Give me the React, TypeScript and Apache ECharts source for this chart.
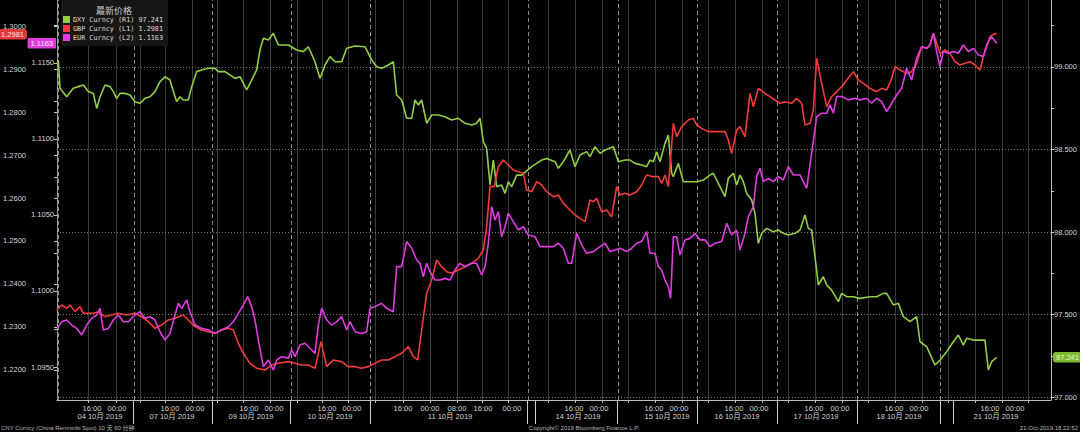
import React, { useEffect, useRef } from "react";
import * as echarts from "echarts";

// x = trading hours since the start of the window (hourly bars)
const DXY: number[][] = [
  [0.4,99.042],[0.9,98.871],[2.9,98.82],[4.9,98.871],[6.4,98.881],[7.9,98.891],[9.4,98.851],[10.9,98.84],[11.9,98.749],[12.9,98.82],
  [14.4,98.891],[15.9,98.881],[16.9,98.851],[17.9,98.81],[18.9,98.84],[20.4,98.84],[21.9,98.83],[23.4,98.79],[24.9,98.78],[26.4,98.81],
  [27.9,98.82],[29.4,98.851],[30.9,98.911],[32.4,98.941],[33.9,98.921],[34.9,98.851],[35.9,98.79],[36.9,98.82],[37.9,98.8],[39.4,98.8],
  [40.4,98.881],[41.9,98.972],[43.4,98.982],[45.4,98.992],[47.4,98.992],[48.4,98.972],[49.4,98.972],[50.4,98.972],[51.9,98.952],[53.4,98.931],
  [54.9,98.941],[56.4,98.881],[56.9,98.861],[58.4,98.921],[59.9,98.982],[60.9,99.103],[61.9,99.174],[63.4,99.164],[64.9,99.204],[66.4,99.133],
  [69.4,99.133],[71.9,99.103],[73.9,99.093],[75.4,99.123],[77.4,99.032],[78.9,98.931],[80.4,99.012],[81.9,99.063],[83.4,99.032],[85.4,99.032],
  [86.9,99.113],[89.4,99.127],[92.4,99.123],[94.4,99.042],[95.9,99.002],[97.4,98.992],[99.4,99.012],[100.9,99.032],[101.9,98.83],[103.4,98.8],
  [104.9,98.689],[106.4,98.689],[107.4,98.8],[108.4,98.77],[109.4,98.8],[110.9,98.659],[112.4,98.709],[114.4,98.709],[116.4,98.699],[118.4,98.679],
  [120.4,98.689],[122.4,98.659],[124.4,98.648],[125.9,98.659],[126.9,98.689],[127.9,98.547],[128.9,98.507],[129.9,98.285],[130.9,98.436],[131.9,98.275],
  [133.4,98.285],[134.4,98.234],[135.4,98.305],[136.4,98.275],[137.9,98.345],[139.4,98.345],[142.4,98.396],[145.4,98.436],[146.9,98.446],[149.4,98.426],
  [150.4,98.386],[151.9,98.426],[153.9,98.497],[155.4,98.396],[156.9,98.467],[158.9,98.487],[159.9,98.457],[161.4,98.517],[162.9,98.477],[164.4,98.497],
  [166.9,98.517],[168.4,98.426],[170.4,98.436],[171.9,98.436],[173.4,98.416],[175.4,98.406],[176.9,98.396],[177.9,98.436],[178.9,98.426],[179.9,98.487],
  [180.9,98.426],[182.4,98.537],[183.4,98.588],[184.4,98.356],[184.9,98.335],[186.4,98.416],[187.9,98.305],[189.9,98.305],[191.9,98.305],[193.9,98.315],
  [195.9,98.345],[196.9,98.356],[198.4,98.295],[200.4,98.214],[201.4,98.325],[202.9,98.356],[203.9,98.285],[204.9,98.345],[205.9,98.305],[206.9,98.234],
  [208.4,98.194],[209.4,98.113],[210.4,97.931],[211.4,97.992],[212.9,98.022],[214.9,98.002],[216.4,98.012],[217.9,97.992],[219.4,97.982],[221.4,97.992],
  [222.9,98.012],[224.4,98.103],[225.4,98.022],[226.4,98.012],[227.4,97.851],[228.4,97.679],[229.9,97.729],[230.9,97.679],[232.4,97.648],[234.4,97.578],
  [235.4,97.628],[236.9,97.608],[238.9,97.608],[240.9,97.598],[243.9,97.608],[245.9,97.608],[247.9,97.628],[248.9,97.628],[250.9,97.558],[252.4,97.568],
  [253.9,97.487],[255.9,97.457],[257.9,97.487],[258.9,97.335],[260.9,97.305],[263.4,97.194],[264.9,97.224],[266.9,97.275],[268.9,97.335],[270.4,97.376],
  [271.9,97.315],[272.9,97.356],[274.9,97.345],[276.9,97.345],[278.4,97.345],[279.4,97.164],[280.4,97.214],[281.9,97.241]
];

const GBP: number[][] = [
  [0,1.23395],[1.4,1.23512],[2.9,1.23434],[3.9,1.23512],[5.4,1.23357],[6.9,1.23473],[7.9,1.23318],[9.4,1.23318],[10.9,1.23318],[12.4,1.23357],
  [14.4,1.2324],[16.4,1.23279],[18.4,1.23318],[20.9,1.23279],[23.4,1.23318],[25.4,1.2324],[27.4,1.23124],[29.4,1.22969],[31.4,1.23047],[33.4,1.23163],
  [35.4,1.23202],[37.9,1.23279],[39.4,1.23163],[41.4,1.23008],[43.4,1.2293],[45.4,1.22891],[47.4,1.22853],[49.4,1.2293],[51.4,1.22969],[52.9,1.2293],
  [54.4,1.2262],[55.9,1.22388],[57.9,1.22155],[59.9,1.22039],[62.4,1.22],[64.4,1.22116],[66.4,1.22155],[69.4,1.22194],[71.4,1.22155],[73.4,1.22116],
  [75.4,1.22116],[77.4,1.22039],[79.2,1.22659],[80.9,1.22078],[82.9,1.22233],[85.4,1.22194],[87.4,1.22078],[89.4,1.22078],[91.4,1.22039],[93.4,1.22078],
  [95.4,1.22155],[97.4,1.22233],[99.4,1.22233],[101.4,1.2231],[103.4,1.22388],[105.4,1.22543],[106.9,1.2231],[108.2,1.22233],[109.4,1.2293],[110.9,1.23783],
  [112.4,1.24093],[113.9,1.24558],[115.4,1.24403],[116.9,1.24287],[118.4,1.24248],[120.4,1.24326],[122.4,1.24403],[124.4,1.24481],[126.4,1.24597],[127.9,1.24791],
  [128.9,1.25333],[129.9,1.26264],[131.2,1.26264],[132.4,1.26729],[133.9,1.26884],[135.4,1.26767],[136.9,1.26651],[138.4,1.26612],[139.9,1.26574],[140.9,1.26186],
  [142.4,1.26147],[143.9,1.2638],[145.4,1.26302],[146.9,1.26147],[148.9,1.26031],[150.4,1.2607],[151.9,1.25876],[153.9,1.25721],[155.4,1.25605],[156.9,1.25527],
  [158.4,1.2545],[159.9,1.25953],[160.9,1.25915],[161.9,1.25992],[163.4,1.25682],[164.9,1.25721],[166.4,1.25566],[167.9,1.26264],[168.9,1.2607],[170.4,1.26109],
  [171.9,1.2607],[173.9,1.26147],[175.4,1.26302],[176.9,1.26535],[178.9,1.26496],[180.4,1.26496],[181.4,1.26341],[182.4,1.26535],[183.4,1.26264],[184.9,1.27736],
  [185.9,1.27426],[187.4,1.27659],[189.4,1.27814],[190.9,1.27853],[191.9,1.27698],[193.4,1.2762],[195.4,1.27543],[197.9,1.27543],[200.4,1.27543],[201.4,1.27349],
  [202.4,1.27039],[203.9,1.27581],[204.9,1.27659],[206.4,1.27426],[207.9,1.28434],[208.9,1.28124],[210.4,1.2855],[212.4,1.28434],[213.9,1.28357],[215.4,1.28279],
  [216.9,1.28202],[218.4,1.2824],[220.4,1.28202],[221.9,1.28318],[223.4,1.28202],[224.4,1.27698],[225.9,1.27736],[226.9,1.28047],[227.9,1.29248],[229.4,1.28667],
  [230.9,1.28124],[232.4,1.28357],[233.9,1.28473],[235.4,1.28589],[236.9,1.28744],[238.9,1.28938],[240.4,1.28744],[241.9,1.28667],[243.9,1.2855],[245.9,1.28473],
  [247.4,1.2855],[248.9,1.28512],[250.4,1.28783],[251.4,1.29054],[252.9,1.28977],[254.9,1.28899],[256.4,1.28938],[257.9,1.29132],[259.4,1.29519],[260.9,1.29481],
  [261.9,1.29558],[262.9,1.29829],[263.9,1.29597],[264.9,1.29364],[266.4,1.29442],[267.9,1.29364],[269.4,1.29171],[270.9,1.29093],[272.4,1.29132],[273.9,1.29171],
  [275.4,1.29093],[276.9,1.28977],[278.4,1.29442],[279.9,1.29752],[281.4,1.29829],[281.9,1.2981]
];

const EUR: number[][] = [
  [0,1.09754],[1.4,1.09798],[2.9,1.09809],[4.4,1.09776],[5.9,1.09754],[7.4,1.09711],[8.9,1.09776],[10.4,1.0982],[11.9,1.09842],[12.9,1.09886],
  [13.9,1.09743],[15.4,1.09754],[16.9,1.09809],[18.4,1.09842],[19.9,1.09798],[21.4,1.09798],[23.4,1.09842],[24.9,1.09864],[26.4,1.0982],[27.9,1.09831],
  [29.4,1.09809],[30.9,1.09732],[32.4,1.09678],[33.9,1.09721],[35.4,1.09842],[36.4,1.09919],[37.4,1.09886],[38.9,1.09941],[39.9,1.09864],[41.4,1.09776],
  [43.4,1.09754],[45.4,1.09743],[47.4,1.09721],[49.4,1.09743],[51.4,1.09765],[52.9,1.09798],[54.4,1.09853],[55.9,1.09908],[57.2,1.09963],[58.4,1.09897],
  [59.4,1.09809],[60.4,1.09678],[61.9,1.09502],[63.4,1.09546],[64.9,1.0948],[65.9,1.09546],[67.4,1.09568],[69.4,1.09557],[70.4,1.09612],[71.4,1.09568],
  [72.9,1.09645],[74.4,1.09656],[75.9,1.09623],[77.4,1.0959],[78.4,1.09776],[79.4,1.09886],[80.9,1.09809],[82.4,1.09776],[83.9,1.09798],[85.4,1.09831],
  [86.9,1.09743],[87.9,1.09798],[89.4,1.09732],[91.4,1.09721],[92.9,1.09732],[93.9,1.09886],[95.4,1.09897],[97.4,1.09919],[98.9,1.09886],[100.9,1.09864],
  [101.9,1.1016],[103.4,1.1016],[104.9,1.10325],[106.4,1.10281],[107.9,1.10204],[108.9,1.10182],[109.9,1.10094],[110.9,1.10182],[111.9,1.10127],[113.4,1.10072],
  [114.9,1.10072],[116.4,1.10083],[117.9,1.10072],[119.4,1.10138],[120.9,1.10182],[122.4,1.1016],[124.4,1.10182],[125.9,1.10182],[127.4,1.10105],[128.4,1.1016],
  [129.4,1.10314],[130.4,1.10555],[131.4,1.10467],[132.4,1.10522],[133.4,1.10357],[134.4,1.10423],[135.4,1.10511],[136.9,1.10456],[138.4,1.10401],[139.9,1.10423],
  [141.4,1.10368],[143.4,1.10357],[144.9,1.10292],[146.9,1.10292],[148.9,1.10292],[150.4,1.10314],[151.9,1.10281],[153.4,1.10182],[154.4,1.10182],[155.9,1.10379],
  [157.4,1.10303],[158.9,1.10248],[160.9,1.10259],[162.9,1.10292],[164.4,1.10314],[165.9,1.10259],[167.4,1.1027],[168.9,1.10281],[170.9,1.10259],[172.4,1.10281],
  [173.9,1.10314],[175.4,1.10325],[176.9,1.1039],[177.9,1.10248],[179.4,1.10248],[180.4,1.1016],[181.4,1.10138],[182.4,1.10072],[183.4,1.10029],[184.1,1.09952],
  [184.9,1.10357],[185.9,1.10357],[186.9,1.10237],[188.4,1.10336],[189.9,1.10346],[191.4,1.10379],[192.9,1.10336],[194.4,1.10336],[195.9,1.10292],[197.4,1.10314],
  [199.4,1.10325],[200.9,1.10445],[202.4,1.10368],[203.9,1.10401],[204.9,1.1027],[206.4,1.10379],[207.4,1.10489],[208.9,1.10555],[209.9,1.10752],[210.9,1.10807],
  [211.9,1.10719],[213.4,1.10741],[214.9,1.10719],[216.4,1.10752],[217.9,1.1073],[219.4,1.10818],[220.9,1.10763],[222.9,1.10763],[224.9,1.10675],[226.4,1.10906],
  [227.9,1.11147],[229.4,1.11169],[230.9,1.11169],[231.9,1.11224],[232.9,1.11169],[233.9,1.11279],[235.4,1.11279],[237.4,1.11257],[239.4,1.11268],[240.9,1.11257],
  [242.9,1.11268],[244.4,1.11235],[245.9,1.11268],[247.4,1.11246],[248.9,1.1118],[250.4,1.11235],[251.9,1.11289],[253.4,1.11333],[254.9,1.11465],[256.4,1.11388],
  [257.9,1.11531],[259.4,1.11607],[260.9,1.11596],[261.9,1.11618],[262.9,1.11695],[263.9,1.11575],[264.9,1.11476],[265.9,1.11575],[267.4,1.11564],[268.9,1.11575],
  [270.4,1.11564],[271.9,1.11618],[273.4,1.11575],[274.9,1.11596],[276.4,1.11553],[277.9,1.11542],[279.4,1.1164],[280.4,1.11673],[281.9,1.1163]
];

const LAST_DXY = 97.241;
const LAST_GBP = 1.2981;
const LAST_EUR = 1.1163;

const GBP_TICKS = [1.22, 1.23, 1.24, 1.25, 1.26, 1.27, 1.28, 1.29, 1.3];
const EUR_TICKS = [1.095, 1.1, 1.105, 1.11, 1.115];
const EUR_MINOR = [1.0925, 1.095, 1.0975, 1.1, 1.1025, 1.105, 1.1075, 1.11, 1.1125, 1.115, 1.1175];
const DXY_TICKS = [97, 97.5, 98, 98.5, 99];
const DXY_MINOR = [97, 97.25, 97.5, 97.75, 98, 98.25, 98.5, 98.75, 99, 99.25];

const TIME_TICKS = [10.5, 18.0, 33.9, 41.4, 57.6, 65.1, 81.0, 88.5, 103.8, 111.9, 120.0, 127.8, 136.5,
  155.1, 162.6, 179.1, 186.6, 203.1, 210.6, 227.1, 234.9, 251.1, 258.6, 279.9, 287.4];
const TIME_LABELS = ["16:00", "00:00", "16:00", "00:00", "16:00", "00:00", "16:00", "00:00",
  "16:00", "00:00", "08:00", "16:00", "00:00",
  "16:00", "00:00", "16:00", "00:00", "16:00", "00:00", "16:00", "00:00", "16:00", "00:00", "16:00", "00:00"];
const DATE_TICKS = [12.9, 34.5, 58.2, 81.9, 117.9, 156.3, 183.0, 204.0, 227.7, 252.6, 281.7];
const DATE_LABELS = ["04 10月 2019", "07 10月 2019", "09 10月 2019", "10 10月 2019", "11 10月 2019",
  "14 10月 2019", "15 10月 2019", "16 10月 2019", "17 10月 2019", "18 10月 2019", "21 10月 2019"];
const DAY_SEPARATORS = [22.8, 46.5, 69.9, 93.9, 141.0, 143.4, 168.0, 192.0, 216.0, 240.0, 264.9, 268.8];
const DASHED_GRID = [0.3, 23.1, 46.5, 70.2, 93.9, 141.3, 168.3, 192.0, 216.0, 240.0, 264.9];
const SOLID_GRID = [9.3, 17.7, 24.9, 32.4, 40.5, 48.0, 55.8, 63.9, 72.0, 79.5, 87.3, 95.4, 103.8, 111.9,
  120.0, 127.5, 135.3, 147.3, 155.4, 163.5, 171.3, 179.4, 187.5, 195.3, 203.4, 211.5, 219.3, 227.4,
  235.5, 243.3, 251.4, 259.5, 267.3, 275.4, 283.5, 291.3];

const FONT = "'Liberation Sans', 'Noto Sans CJK SC', Arial, sans-serif";
const LEGEND_FONT = "'DejaVu Sans Mono', 'Liberation Mono', monospace";
const C_DXY = "#93cd45";
const C_GBP = "#f23c3c";
const C_EUR = "#df3ddf";

const pick = (ticks: number[], labels: string[]) => (v: number) => {
  let best = 0;
  for (let i = 0; i < ticks.length; i++) if (Math.abs(ticks[i] - v) < Math.abs(ticks[best] - v)) best = i;
  return labels[best];
};

export default function App() {
  const ref = useRef<HTMLDivElement>(null);
  useEffect(() => {
    if (!ref.current) return;
    const chart = echarts.init(ref.current, undefined, { renderer: "svg" });
    const labelStyle = { color: "#d6d6d6", fontSize: 7.5, fontFamily: FONT };
    const gridLines = [
      ...SOLID_GRID.map((h) => ({ xAxis: h, lineStyle: { color: "#3a3a3a", type: "solid", width: 1 } })),
      ...DASHED_GRID.map((h) => ({ xAxis: h, lineStyle: { color: "#8c8c8c", type: [4, 3], width: 1 } })),
      ...DXY_TICKS.map((v) => ({ yAxis: v, lineStyle: { color: "#7a7a7a", type: [1, 2], width: 1 } })),
    ];
    chart.setOption({
      animation: false,
      backgroundColor: "#000000",
      grid: { left: 57, right: 29, top: 0, bottom: 32 },
      legend: {
        data: ["DXY Curncy", "GBP Curncy", "EUR Curncy"],
        orient: "vertical",
        left: 63,
        top: 16,
        z: 6,
        itemWidth: 7,
        itemHeight: 7,
        itemGap: 2,
        padding: 0,
        icon: "rect",
        selectedMode: false,
        textStyle: { color: "#dcdcdc", fontSize: 6.8, fontFamily: LEGEND_FONT, padding: [0, 0, 0, -2] },
        formatter: (name: string) =>
          name === "DXY Curncy" ? `${name} (R1) ${LAST_DXY.toFixed(3)}`
          : name === "GBP Curncy" ? `${name} (L1) ${LAST_GBP.toFixed(4)}`
          : `${name} (L2) ${LAST_EUR.toFixed(4)}`,
      },
      xAxis: [
        {
          type: "value", min: 0, max: 298.2, position: "bottom",
          axisLine: { show: true, lineStyle: { color: "#bdbdbd", width: 1 } },
          axisTick: { show: true, customValues: SOLID_GRID, length: 3, lineStyle: { color: "#bdbdbd" } },
          axisLabel: { show: true, customValues: TIME_TICKS, formatter: pick(TIME_TICKS, TIME_LABELS), margin: 5, ...labelStyle },
          splitLine: { show: false },
        },
        {
          type: "value", min: 0, max: 298.2, position: "bottom",
          axisLine: { show: false },
          axisTick: { show: true, customValues: DAY_SEPARATORS, length: 24, lineStyle: { color: "#cfcfcf" } },
          axisLabel: { show: true, customValues: DATE_TICKS, formatter: pick(DATE_TICKS, DATE_LABELS), margin: 13, ...labelStyle },
          splitLine: { show: false },
        },
      ],
      yAxis: [
        {
          type: "value", position: "left", offset: 29, min: 1.21302, max: 1.30605,
          axisLine: { show: true, lineStyle: { color: "#a82828", width: 1 } },
          axisTick: { show: true, customValues: GBP_TICKS, length: 3, lineStyle: { color: "#cccccc" } },
          axisLabel: { show: true, customValues: GBP_TICKS, formatter: (v: number) => v.toFixed(4), margin: 2, ...labelStyle },
          splitLine: { show: false },
        },
        {
          type: "value", position: "left", offset: 0, min: 1.09283, max: 1.11914,
          axisLine: { show: true, lineStyle: { color: "#9a9a9a", width: 1 } },
          axisTick: { show: true, customValues: EUR_MINOR, length: 3, lineStyle: { color: "#cccccc" } },
          axisLabel: { show: true, customValues: EUR_TICKS, formatter: (v: number) => v.toFixed(4), margin: 3, ...labelStyle },
          splitLine: { show: false },
        },
        {
          type: "value", position: "right", offset: 0, min: 96.982, max: 99.406,
          axisLine: { show: true, lineStyle: { color: "#bdbdbd", width: 1 } },
          axisTick: { show: true, customValues: DXY_MINOR, length: 3, lineStyle: { color: "#cccccc" } },
          axisLabel: { show: true, customValues: DXY_TICKS, formatter: (v: number) => v.toFixed(3), margin: 3, ...labelStyle },
          splitLine: { show: false },
        },
      ],
      series: [
        {
          name: "DXY Curncy", type: "line", xAxisIndex: 0, yAxisIndex: 2, data: DXY,
          showSymbol: false, color: C_DXY, lineStyle: { color: C_DXY, width: 1.6 }, z: 3,
          markLine: { silent: true, symbol: ["none", "none"], label: { show: false }, z: 1, animation: false, data: gridLines },
        },
        {
          name: "GBP Curncy", type: "line", xAxisIndex: 0, yAxisIndex: 0, data: GBP,
          showSymbol: false, color: C_GBP, lineStyle: { color: C_GBP, width: 1.6 }, z: 3,
        },
        {
          name: "EUR Curncy", type: "line", xAxisIndex: 0, yAxisIndex: 1, data: EUR,
          showSymbol: false, color: C_EUR, lineStyle: { color: C_EUR, width: 1.6 }, z: 3,
        },
      ],
    });

    const yG = chart.convertToPixel({ yAxisIndex: 0 }, LAST_GBP) as number;
    const yE = chart.convertToPixel({ yAxisIndex: 1 }, LAST_EUR) as number;
    const yD = chart.convertToPixel({ yAxisIndex: 2 }, LAST_DXY) as number;
    const foot = { fill: "#b8b8b8", fontSize: 6, fontFamily: FONT, verticalAlign: "middle" };
    chart.setOption({
      graphic: [
        { type: "rect", z: 5, shape: { x: 61, y: 0, width: 107, height: 46 }, style: { fill: "#161616" } },
        { type: "text", z: 10, x: 114, y: 10, style: { text: "最新价格", fill: "#d0d0d0", fontSize: 9, fontFamily: "'Noto Sans CJK SC', sans-serif", align: "center", verticalAlign: "middle" } },
        { type: "text", z: 10, x: 27, y: yG, style: { text: LAST_GBP.toFixed(4), fill: "#ffe0e0", backgroundColor: "#e23a3a", padding: [2, 3, 1, 3], borderRadius: 3, fontSize: 7.5, fontFamily: FONT, align: "right", verticalAlign: "middle" } },
        { type: "text", z: 10, x: 56, y: yE, style: { text: LAST_EUR.toFixed(4), fill: "#ffe6ff", backgroundColor: "#dd3ddd", padding: [2, 3, 1, 3], borderRadius: 1, fontSize: 7.5, fontFamily: FONT, align: "right", verticalAlign: "middle" } },
        { type: "text", z: 10, x: 1053, y: yD, style: { text: LAST_DXY.toFixed(3), fill: "#e6f7c8", backgroundColor: "#7dbb32", padding: [2, 3, 1, 3], borderRadius: 3, fontSize: 7.5, fontFamily: FONT, align: "left", verticalAlign: "middle" } },
        { type: "text", z: 10, x: 1, y: 428, style: { ...foot, text: "CNY Curncy (China Renminbi Spot) 10 天 60 分钟", align: "left" } },
        { type: "text", z: 10, x: 584, y: 428, style: { ...foot, text: "Copyright© 2019 Bloomberg Finance L.P.", align: "center" } },
        { type: "text", z: 10, x: 1078, y: 428, style: { ...foot, text: "21-Oct-2019 18:22:52", align: "right" } },
      ],
    });
    return () => chart.dispose();
  }, []);
  return (
    <div
      ref={ref}
      style={{ position: "fixed", left: 0, top: 0, width: 1080, height: 432, background: "#000" }}
    />
  );
}
